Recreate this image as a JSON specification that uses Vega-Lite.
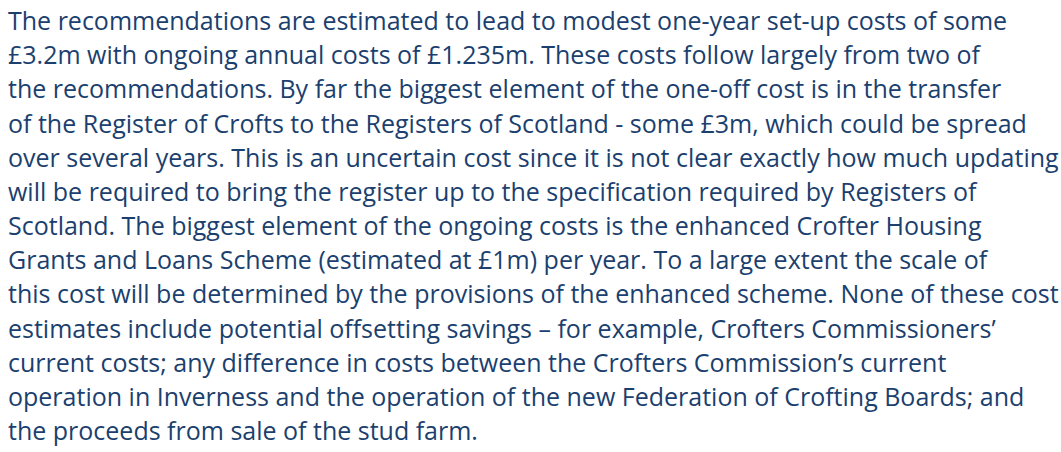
{
  "$schema": "https://vega.github.io/schema/vega-lite/v6.json",
  "width": 1061,
  "height": 452,
  "autosize": {"type": "fit", "contains": "padding"},
  "padding": 0,
  "background": "white",
  "config": {"view": {"stroke": null}},
  "data": {
    "values": [
      {"line": 0, "text": "The recommendations are estimated to lead to modest one-year set-up costs of some"},
      {"line": 1, "text": "£3.2m with ongoing annual costs of £1.235m. These costs follow largely from two of"},
      {"line": 2, "text": "the recommendations. By far the biggest element of the one-off cost is in the transfer"},
      {"line": 3, "text": "of the Register of Crofts to the Registers of Scotland - some £3m, which could be spread"},
      {"line": 4, "text": "over several years. This is an uncertain cost since it is not clear exactly how much updating"},
      {"line": 5, "text": "will be required to bring the register up to the specification required by Registers of"},
      {"line": 6, "text": "Scotland. The biggest element of the ongoing costs is the enhanced Crofter Housing"},
      {"line": 7, "text": "Grants and Loans Scheme (estimated at £1m) per year. To a large extent the scale of"},
      {"line": 8, "text": "this cost will be determined by the provisions of the enhanced scheme. None of these cost"},
      {"line": 9, "text": "estimates include potential offsetting savings – for example, Crofters Commissioners’"},
      {"line": 10, "text": "current costs; any difference in costs between the Crofters Commission’s current"},
      {"line": 11, "text": "operation in Inverness and the operation of the new Federation of Crofting Boards; and"},
      {"line": 12, "text": "the proceeds from sale of the stud farm."}
    ]
  },
  "mark": {
    "type": "text",
    "align": "left",
    "baseline": "alphabetic",
    "font": "Open Sans",
    "fontSize": 25,
    "color": "#1b3f6e"
  },
  "encoding": {
    "y": {"field": "line", "type": "quantitative", "scale": {"domain": [0, 12], "range": [30, 440]}, "axis": null},
    "x": {"datum": 0, "type": "quantitative", "scale": {"domain": [0, 1], "range": [8, 1061]}, "axis": null},
    "text": {"field": "text"}
  }
}
